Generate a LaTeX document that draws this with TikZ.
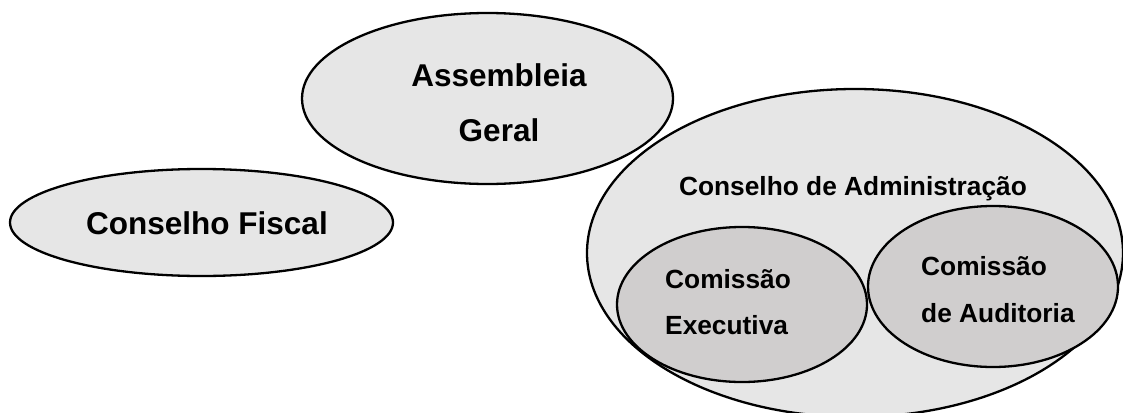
\documentclass[tikz,border=0pt]{standalone}
\usepackage{fontspec}
\setmainfont{Liberation Sans}
\usetikzlibrary{shapes.geometric}
\definecolor{outerfill}{HTML}{E6E6E6}
\definecolor{innerfill}{HTML}{D0CECE}
\begin{document}
\begin{tikzpicture}[x=1pt,y=-1pt,
  organ/.style={ellipse, draw=black, line width=2.3pt, fill=outerfill, inner sep=0pt},
  committee/.style={organ, fill=innerfill},
  bigtext/.style={font=\fontsize{31.5}{56}\selectfont\bfseries, inner sep=0pt},
  smalltext/.style={font=\fontsize{26.3}{46}\selectfont\bfseries, inner sep=0pt}
]
\useasboundingbox (0,0) rectangle (1123,412);
\clip (0,0) rectangle (1123,412);

% governing bodies
\node[organ, minimum width=383pt, minimum height=107pt] (cf) at (201.5,222.5) {};
\node[organ, minimum width=371pt, minimum height=171pt] (ag) at (487.5,98.5) {};
\node[organ, minimum width=536pt, minimum height=328pt] (ca) at (855,253) {};

% committees inside the board
\node[committee, minimum width=250pt, minimum height=155pt] (ce) at (742,304.5) {};
\node[committee, minimum width=250pt, minimum height=161pt] (cau) at (993,286.5) {};

% labels
\node[bigtext, anchor=base] (cflabel) at (207,234) {Conselho Fiscal};
\node[bigtext, anchor=base] (aglabel) at (499,86)
  {\vtop{\baselineskip=55pt\halign{\hfil#\hfil\cr Assembleia\cr Geral\cr}}};
\node[smalltext, anchor=base] (calabel) at (853,195) {Conselho de Administração};
\node[smalltext, anchor=base west] (celabel) at (665,288)
  {\vtop{\baselineskip=46pt\hbox{Comissão}\hbox{Executiva}}};
\node[smalltext, anchor=base west] (caulabel) at (921,275)
  {\vtop{\baselineskip=47pt\hbox{Comissão}\hbox{de Auditoria}}};
\end{tikzpicture}
\end{document}
